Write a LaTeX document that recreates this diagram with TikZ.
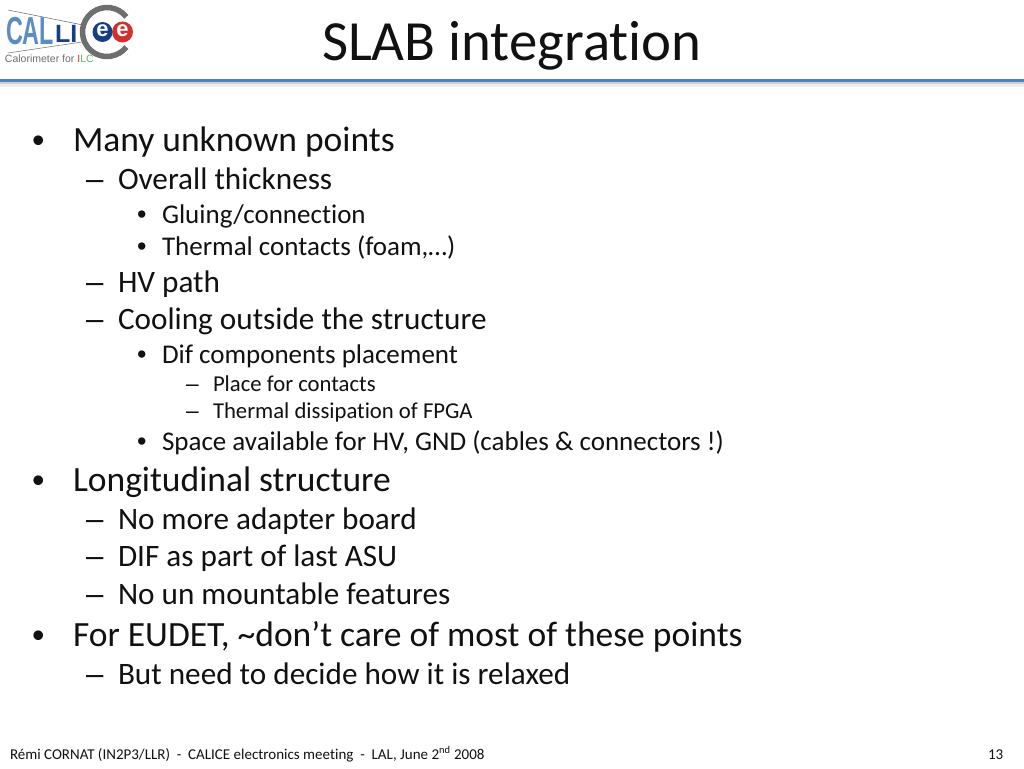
\documentclass[tikz,border=0pt]{standalone}
\usepackage{fontspec}
\setmainfont[Ligatures=CommonOff]{Carlito}
\newfontfamily\logofont{Liberation Sans}
\definecolor{rulecol}{HTML}{4F81BD}
\definecolor{shadecol}{HTML}{B8B8B8}
\definecolor{logoblue}{HTML}{5B8DC4}
\definecolor{logonavy}{HTML}{123F86}
\definecolor{logogray}{HTML}{6E6E6E}
\definecolor{logored}{HTML}{D0312D}
\definecolor{logogreen}{HTML}{55B86A}
\definecolor{bodycol}{HTML}{111111}
\begin{document}
\begin{tikzpicture}[x=1pt,y=-1pt,
  every node/.style={inner sep=0pt,outer sep=0pt,anchor=base west,text=bodycol},
  title/.style={font=\fontsize{56.8}{57}\selectfont},
  levela/.style={font=\fontsize{35.5}{36}\selectfont},
  levelb/.style={font=\fontsize{31.2}{32}\selectfont},
  levelc/.style={font=\fontsize{27}{28}\selectfont},
  leveld/.style={font=\fontsize{22.7}{23}\selectfont},
  mark a/.style={font=\logofont\fontsize{35.5}{36}\selectfont},
  mark b/.style={font=\logofont\fontsize{31.2}{32}\selectfont},
  mark c/.style={font=\logofont\fontsize{27}{28}\selectfont},
  mark d/.style={font=\logofont\fontsize{22.7}{23}\selectfont},
  foot/.style={font=\fontsize{15}{15}\selectfont}]
\useasboundingbox (0,0) rectangle (1024,768);
\fill[white] (0,0) rectangle (1024,768);
% header rule
\fill[shadecol,opacity=.25] (0,81) rectangle (1024,87);
\fill[shadecol,opacity=.55] (0,81) rectangle (1024,84);
\fill[rulecol] (0,79) rectangle (1024,81.5);
% logo
\draw[logogray,line width=5.5pt] (126.3,16.9) arc (-38:-322:24.5);
\fill[logonavy] (102.5,32) circle (10);
\fill[logored] (122.5,32) circle (10.5);
\node[anchor=center,font=\logofont\bfseries\fontsize{22}{22}\selectfont,text=white] (Pe1) at (102.5,31) {e};
\node[anchor=center,font=\logofont\bfseries\fontsize{22}{22}\selectfont,text=white] (Pe2) at (122.5,31) {e};
\draw[logogray,line width=.5pt] (8,10) -- (83,25);
\draw[logogray,line width=.5pt] (8,53) -- (82,42);
\node[font=\logofont\bfseries\fontsize{39}{39}\selectfont,text=logoblue,xscale=.6] (Pcal) at (6,45) {CAL};
\node[font=\logofont\bfseries\fontsize{25}{25}\selectfont,text=logonavy] (Pli) at (55,43) {LI};
\node[font=\logofont\fontsize{10.5}{11}\selectfont,text=logogray] (Pfor) at (5,63) {Calorimeter for \textcolor{logored}{I}\textcolor{logogreen}{LC}};
% title
\node[title] (P0) at (322,60) {SLAB integration};
% first block
\node[mark a] (B1) at (32,152) {•};
\node[levela] (P1) at (73,151) {Many unknown points};
\node[mark b] (D1) at (86,189) {–};
\node[levelb] (P2) at (118,189) {Overall thickness};
\node[mark c] (B2) at (137,223) {•};
\node[levelc] (P3) at (162,223) {Gluing/connection};
\node[mark c] (B3) at (137,255) {•};
\node[levelc] (P4) at (162,255) {Thermal contacts (foam,…)};
\node[mark b] (D2) at (86,292) {–};
\node[levelb] (P5) at (118,292) {HV path};
\node[mark b] (D3) at (86,329) {–};
\node[levelb] (P6) at (118,329) {Cooling outside the structure};
\node[mark c] (B4) at (137,363) {•};
\node[levelc] (P7) at (162,363) {Dif components placement};
\node[mark d] (D4) at (186,391) {–};
\node[leveld] (P8) at (213,391) {Place for contacts};
\node[mark d] (D5) at (186,418) {–};
\node[leveld] (P9) at (213,418) {Thermal dissipation of FPGA};
\node[mark c] (B5) at (137,450) {•};
\node[levelc] (P10) at (162,450) {Space available for HV, GND (cables \& connectors !)};
% second block
\node[mark a] (B6) at (32,492) {•};
\node[levela] (P11) at (73,491) {Longitudinal structure};
\node[mark b] (D6) at (86,529) {–};
\node[levelb] (P12) at (118,529) {No more adapter board};
\node[mark b] (D7) at (86,566) {–};
\node[levelb] (P13) at (118,566) {DIF as part of last ASU};
\node[mark b] (D8) at (86,604) {–};
\node[levelb] (P14) at (118,604) {No un mountable features};
% third block
\node[mark a] (B7) at (32,647) {•};
\node[levela] (P15) at (73,646) {For EUDET, \char`~don’t care of most of these points};
\node[mark b] (D9) at (86,684) {–};
\node[levelb] (P16) at (118,684) {But need to decide how it is relaxed};
% footer
\node[foot] (P17) at (10,759) {Rémi CORNAT (IN2P3/LLR)\ \ -\ \ CALICE electronics meeting\ \ -\ \ LAL, June 2\textsuperscript{nd} 2008};
\node[foot] (P18) at (988,759) {13};
\end{tikzpicture}
\end{document}
